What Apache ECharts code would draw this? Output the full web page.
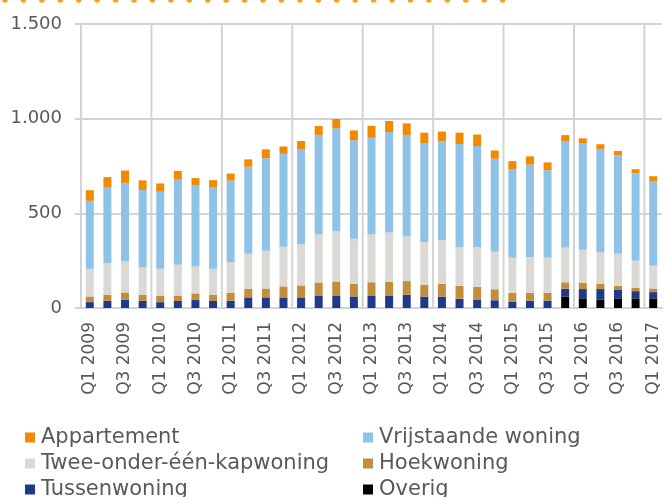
<!DOCTYPE html>
<html>
<head>
<meta charset="utf-8">
<script src="https://cdn.jsdelivr.net/npm/echarts@6/dist/echarts.min.js"></script>
<style>
html,body{margin:0;padding:0;background:#fff;}
#c{width:664px;height:497px;}
</style>
</head>
<body>
<div id="c"></div>
<script>
var categories = ['Q1 2009','Q2 2009','Q3 2009','Q4 2009','Q1 2010','Q2 2010','Q3 2010','Q4 2010',
  'Q1 2011','Q2 2011','Q3 2011','Q4 2011','Q1 2012','Q2 2012','Q3 2012','Q4 2012',
  'Q1 2013','Q2 2013','Q3 2013','Q4 2013','Q1 2014','Q2 2014','Q3 2014','Q4 2014',
  'Q1 2015','Q2 2015','Q3 2015','Q4 2015','Q1 2016','Q2 2016','Q3 2016','Q4 2016','Q1 2017'];

var overig = [0,0,0,0,0,0,0,0,0,0,0,0,0,0,0,0,0,0,0,0,0,0,0,0,0,0,0,61,51,45,51,51,51];
var tussenwoning = [31,38,44,38,31,37,42,37,38,56,56,56,56,66,66,61,66,66,70,60,60,49,45,41,34,39,39,41,49,55,44,38,33];
var hoekwoning = [30,32,38,32,35,29,35,33,42,46,47,58,63,69,74,67,70,73,72,63,68,68,66,58,46,41,42,34,32,29,22,18,19];
var tweeOnderEenKap = [146,168,165,144,141,162,142,137,163,184,199,210,216,253,267,238,254,260,235,226,230,204,211,198,185,189,186,184,175,166,169,142,121];
var vrijstaand = [359,399,414,409,407,453,430,430,430,460,489,490,503,526,542,520,509,530,537,521,522,545,533,491,469,488,461,562,561,545,521,463,446];
var appartement = [56,54,65,51,44,43,37,38,37,39,47,39,44,47,49,52,63,59,61,56,52,60,61,44,42,44,41,31,28,25,22,21,26];

var yTicks = [0, 500, 1000, 1500];

var names = {
  app: 'Appartement', vrij: 'Vrijstaande woning', twee: 'Twee-onder-één-kapwoning',
  hoek: 'Hoekwoning', tussen: 'Tussenwoning', overig: 'Overig'
};
var colors = {
  app: '#F18A00', vrij: '#8EC2E8', twee: '#DAD9D5',
  hoek: '#C38E3B', tussen: '#1F3A8A', overig: '#000000'
};
var GRID_COLOR = '#D3D3D3';

function fmt(v){ return String(v).replace(/\B(?=(\d{3})+(?!\d))/g, '.'); }

function bar(key, data){
  return {
    name: names[key], type: 'bar', stack: 'total', data: data, barWidth: 8, z: 3,
    itemStyle: { color: colors[key] },
    emphasis: { disabled: true }
  };
}

// year separator lines at the left boundary of each Q1 category
var yearStarts = [];
categories.forEach(function(c, i){ if (c.indexOf('Q1') === 0) yearStarts.push([i, 0]); });

var FONT = 'DejaVu Sans';
var legendLayout = [
  ['app', 25, 427], ['vrij', 363, 427],
  ['twee', 25, 453], ['hoek', 363, 453],
  ['tussen', 25, 479], ['overig', 363, 479]
];
var legends = legendLayout.map(function(l){
  return {
    orient: 'horizontal', left: l[1], top: l[2], itemWidth: 10, itemHeight: 10,
    icon: 'rect', selectedMode: false, padding: 0,
    data: [names[l[0]]],
    textStyle: { fontFamily: FONT, fontSize: 21, color: '#595959', lineHeight: 20, padding: [0,0,0,1] }
  };
});

var chart = echarts.init(document.getElementById('c'), null, {renderer: 'canvas'});
chart.setOption({
  animation: false,
  backgroundColor: '#fff',
  textStyle: { fontFamily: FONT },
  grid: { left: 81, right: 2, top: 24, bottom: 189, containLabel: false },
  graphic: [{
    type: 'line', silent: true,
    shape: { x1: 5, y1: 0, x2: 505, y2: 0 },
    style: { stroke: '#F5A21B', lineWidth: 5.5, lineDash: [0, 18.43], lineCap: 'round' }
  }],
  legend: legends,
  xAxis: {
    type: 'category', data: categories, boundaryGap: true,
    axisLine: { show: true, lineStyle: { color: GRID_COLOR, width: 2 } },
    axisTick: { show: false },
    splitLine: { show: false },
    axisLabel: { interval: 1, rotate: 90, margin: 14, fontFamily: FONT, fontSize: 17, color: '#595959' }
  },
  yAxis: {
    type: 'value', min: yTicks[0], max: yTicks[yTicks.length-1], interval: yTicks[1]-yTicks[0],
    axisLine: { show: false },
    axisTick: { show: true, length: 6, lineStyle: { color: GRID_COLOR, width: 2 } },
    splitLine: { show: true, lineStyle: { color: GRID_COLOR, width: 2 } },
    axisLabel: { margin: 19, fontFamily: FONT, fontSize: 18, color: '#595959', formatter: fmt }
  },
  series: [
    {
      type: 'custom', name: 'yearLines', silent: true, z: 1,
      data: yearStarts, encode: { x: 0, y: 1 },
      renderItem: function(params, api){
        var cs = params.coordSys;
        var x = api.coord([api.value(0), 0])[0] - api.size([1, 0])[0] / 2;
        return {
          type: 'line',
          shape: { x1: x, y1: cs.y, x2: x, y2: cs.y + cs.height },
          style: { stroke: GRID_COLOR, lineWidth: 2 }
        };
      }
    },
    bar('overig', overig),
    bar('tussen', tussenwoning),
    bar('hoek', hoekwoning),
    bar('twee', tweeOnderEenKap),
    bar('vrij', vrijstaand),
    bar('app', appartement)
  ]
});
</script>
</body>
</html>
